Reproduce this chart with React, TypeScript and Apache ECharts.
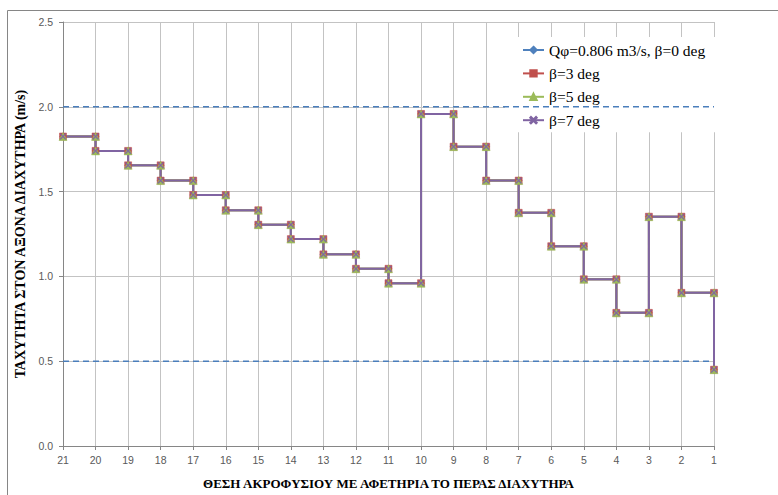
import React, { useEffect, useRef } from "react";
import * as echarts from "echarts";

// Nozzle positions along the diffuser, counted from its far end
const positions = [21, 20, 19, 18, 17, 16, 15, 14, 13, 12, 11, 10, 9, 8, 7, 6, 5, 4, 3, 2, 1];

// Axial velocity (m/s) at each nozzle position; the four inclinations give the same profile
const velocityBeta0 = [1.825, 1.74, 1.655, 1.565, 1.48, 1.39, 1.305, 1.22, 1.13, 1.045, 0.96, 1.958, 1.765, 1.565, 1.375, 1.178, 0.983, 0.785, 1.352, 0.903, 0.45];
const velocityBeta3 = [1.825, 1.74, 1.655, 1.565, 1.48, 1.39, 1.305, 1.22, 1.13, 1.045, 0.96, 1.958, 1.765, 1.565, 1.375, 1.178, 0.983, 0.785, 1.352, 0.903, 0.45];
const velocityBeta5 = [1.825, 1.74, 1.655, 1.565, 1.48, 1.39, 1.305, 1.22, 1.13, 1.045, 0.96, 1.958, 1.765, 1.565, 1.375, 1.178, 0.983, 0.785, 1.352, 0.903, 0.45];
const velocityBeta7 = [1.825, 1.74, 1.655, 1.565, 1.48, 1.39, 1.305, 1.22, 1.13, 1.045, 0.96, 1.958, 1.765, 1.565, 1.375, 1.178, 0.983, 0.785, 1.352, 0.903, 0.45];

// Allowed velocity band
const upperLimit = 2.0;
const lowerLimit = 0.5;

const seriesNames = ["Qφ=0.806 m3/s, β=0 deg", "β=3 deg", "β=5 deg", "β=7 deg"];
const yTicks = { min: 0, max: 2.5, interval: 0.5 };

const SERIF = "'Times New Roman', 'Liberation Serif', 'DejaVu Serif', serif";

// Each level holds from its own nozzle up to the next one, then drops or rises there
function stepPoints(values: number[]): [number, number][] {
  const pts: [number, number][] = [[positions[0], values[0]]];
  for (let i = 1; i < positions.length; i++) {
    pts.push([positions[i], values[i - 1]]);
    pts.push([positions[i], values[i]]);
  }
  return pts;
}

const X_SYMBOL = "path://M0,1L1,0L5,4L9,0L10,1L6,5L10,9L9,10L5,6L1,10L0,9L4,5Z";

export default function App() {
  const ref = useRef<HTMLDivElement>(null);

  useEffect(() => {
    if (!ref.current) return;
    const chart = echarts.init(ref.current, null, { renderer: "svg" });

    const stepSeries = (name: string, values: number[], color: string, symbol: string, size: number) => ({
      name,
      type: "line",
      data: stepPoints(values),
      symbol,
      symbolSize: size,
      showSymbol: true,
      z: 3,
      lineStyle: { color, width: 2 },
      itemStyle: { color, borderColor: color, borderWidth: 0.5 },
    });

    const limitSeries = (value: number) => ({
      name: "limit-" + value,
      type: "line",
      data: [
        [positions[0], value],
        [positions[positions.length - 1], value],
      ],
      symbol: "none",
      z: 2,
      lineStyle: { color: "#4A7EBB", width: 1.6, type: [6, 4] },
      silent: true,
    });

    chart.setOption({
      animation: false,
      backgroundColor: "#ffffff",
      grid: { left: 63, right: 64, top: 22, bottom: 46 },
      legend: {
        data: seriesNames,
        orient: "vertical",
        left: 505,
        top: 37,
        z: 1,
        backgroundColor: "#ffffff",
        padding: [5, 15, 4, 17],
        itemWidth: 21,
        itemHeight: 8,
        itemGap: 7.4,
        textStyle: { fontFamily: SERIF, fontSize: 15.5, color: "#000000" },
      },
      xAxis: {
        type: "value",
        inverse: true,
        min: 1,
        max: 21,
        interval: 1,
        name: "ΘΕΣΗ ΑΚΡΟΦΥΣΙΟΥ ΜΕ ΑΦΕΤΗΡΙΑ ΤΟ ΠΕΡΑΣ ΔΙΑΧΥΤΗΡΑ",
        nameLocation: "middle",
        nameGap: 31,
        nameTextStyle: { fontFamily: SERIF, fontWeight: "bold", fontSize: 13, color: "#000000" },
        axisLine: { show: true, lineStyle: { color: "#868686" } },
        axisTick: { show: true, length: 4, lineStyle: { color: "#868686" } },
        axisLabel: { fontFamily: "Liberation Sans", fontSize: 10.5, color: "#595959", margin: 8 },
        splitLine: { show: true, lineStyle: { color: "#C3C3C3", width: 1 } },
      },
      yAxis: {
        type: "value",
        min: yTicks.min,
        max: yTicks.max,
        interval: yTicks.interval,
        name: "ΤΑΧΥΤΗΤΑ ΣΤΟΝ ΑΞΟΝΑ ΔΙΑΧΥΤΗΡΑ (m/s)",
        nameLocation: "middle",
        nameGap: 33,
        nameTextStyle: { fontFamily: SERIF, fontWeight: "bold", fontSize: 14, color: "#000000" },
        axisLine: { show: true, lineStyle: { color: "#868686" } },
        axisTick: { show: true, length: 4, lineStyle: { color: "#868686" } },
        axisLabel: {
          fontFamily: "Liberation Sans",
          fontSize: 10.5,
          color: "#595959",
          margin: 10,
          formatter: (v: number) => v.toFixed(1),
        },
        splitLine: { show: true, lineStyle: { color: "#C3C3C3", width: 1 } },
      },
      graphic: [
        {
          type: "rect",
          shape: { x: 7.5, y: 10.5, width: 800, height: 520 },
          style: { fill: "none", stroke: "#868686", lineWidth: 1 },
          silent: true,
          z: 0,
        },
      ],
      series: [
        limitSeries(upperLimit),
        limitSeries(lowerLimit),
        stepSeries(seriesNames[0], velocityBeta0, "#4F81BD", "diamond", 7),
        stepSeries(seriesNames[1], velocityBeta3, "#C0504D", "rect", 7),
        stepSeries(seriesNames[2], velocityBeta5, "#9BBB59", "triangle", 8),
        stepSeries(seriesNames[3], velocityBeta7, "#8064A2", X_SYMBOL, 6),
      ],
    });

    return () => chart.dispose();
  }, []);

  return (
    <div
      ref={ref}
      style={{ position: "absolute", left: 0, top: 0, width: 778, height: 495 }}
    />
  );
}
